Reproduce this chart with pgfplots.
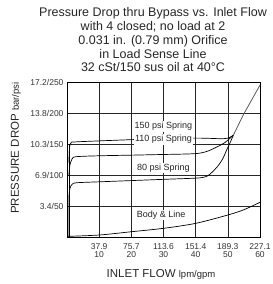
\documentclass[border=0pt]{standalone}
\usepackage{pgfplots}
\pgfplotsset{compat=1.18}
\usepackage{fontspec}
\setmainfont{Liberation Sans}
\begin{document}
\begin{tikzpicture}
\useasboundingbox (0pt,0pt) rectangle (273pt,-284pt);
% title
\begin{scope}[every node/.style={anchor=base,inner sep=0pt,font=\fontsize{12.5}{13.75}\selectfont,text=black!85}]
\node at (153pt,-16.7pt) {Pressure Drop thru Bypass vs. Inlet Flow};
\node at (153pt,-30.5pt) {with 4 closed; no load at 2};
\node at (153pt,-44.2pt) {0.031 in. (0.79 mm) Orifice};
\node at (153pt,-58.0pt) {in Load Sense Line};
\node at (153pt,-71.7pt) {32 cSt/150 sus oil at 40°C};
\end{scope}
\node[anchor=base,inner sep=0pt,font=\fontsize{11.5}{12}\selectfont,text=black!85] at (161pt,-277pt) {INLET FLOW {\fontsize{9.5}{10}\selectfont lpm/gpm}};
\node[anchor=base,rotate=90,inner sep=0pt,font=\fontsize{11.5}{12}\selectfont,text=black!85] at (19pt,-148pt) {PRESSURE DROP {\fontsize{9.5}{10}\selectfont bar/psi}};
\begin{axis}[
  at={(67pt,-237pt)}, anchor=south west,
  scale only axis, width=193pt, height=155pt,
  xmin=0, xmax=60, ymin=0, ymax=250,
  xtick={10,20,30,40,50,60},
  xticklabels={{37.9\\10},{75.7\\20},{113.6\\30},{151.4\\40},{189.3\\50},{227.1\\60}},
  ytick={50,100,150,200,250},
  yticklabels={3.4/50,6.9/100,10.3/150,13.8/200,17.2/250},
  xticklabel style={align=center,font=\fontsize{8.5}{8.5}\selectfont,text=black!80,yshift=-3pt},
  yticklabel style={font=\fontsize{8.5}{9}\selectfont,text=black!80},
  /pgf/number format/assume math mode=true,
  major tick length=0pt,
  grid=major,
  major grid style={black!85,line width=0.6pt},
  axis line style={black,line width=0.8pt},
  clip=false,
]
% Body & Line
\addplot[black,line width=0.7pt,smooth] coordinates {(0,1) (10,3.2) (20,8.5) (30,14) (40,22) (50,35.5) (55,44) (60,56)};
% 80 psi spring (continues into steep section)
\addplot[black,line width=0.7pt,smooth] coordinates {(0.6,0) (0.6,60) (0.9,78) (1.6,85) (3,87.5) (10,89) (20,91) (30,93) (38,94.5) (41.5,95.5) (43.5,98) (45,104) (47,115) (48.5,127) (49.6,140) (50.7,152) (51.7,164)};
\addplot[black!65,line width=0.8pt] coordinates {(51.7,164) (54.8,197) (57.4,221) (60,245)};
% 110 psi spring
\addplot[black,line width=0.7pt,smooth] coordinates {(0.6,100) (0.9,116) (1.6,126) (2.8,129.5) (10,131) (20,132) (29,133) (38,134) (41.6,135.5) (44,139) (46.5,145) (49,152) (51.7,164)};
% 150 psi spring
\addplot[black,line width=0.7pt,smooth] coordinates {(0.6,120) (0.8,145) (1.3,152) (3,153.5) (20,157) (30,158.5) (40,159.5) (45,159) (48,158.5) (50,159.5) (51.7,164)};
\addplot[black,line width=0.8pt] coordinates {(0.6,0) (0.6,150)};
% labels
\begin{scope}[every node/.style={fill=white,inner sep=1pt,font=\fontsize{9}{10}\selectfont,text=black!85}]
\node at (axis cs:30,178) {150 psi Spring};
\node at (axis cs:30,157) {110 psi Spring};
\node at (axis cs:30,111) {80 psi Spring};
\node at (axis cs:29.3,35.5) {Body \& Line};
\end{scope}
\end{axis}
\end{tikzpicture}
\end{document}
